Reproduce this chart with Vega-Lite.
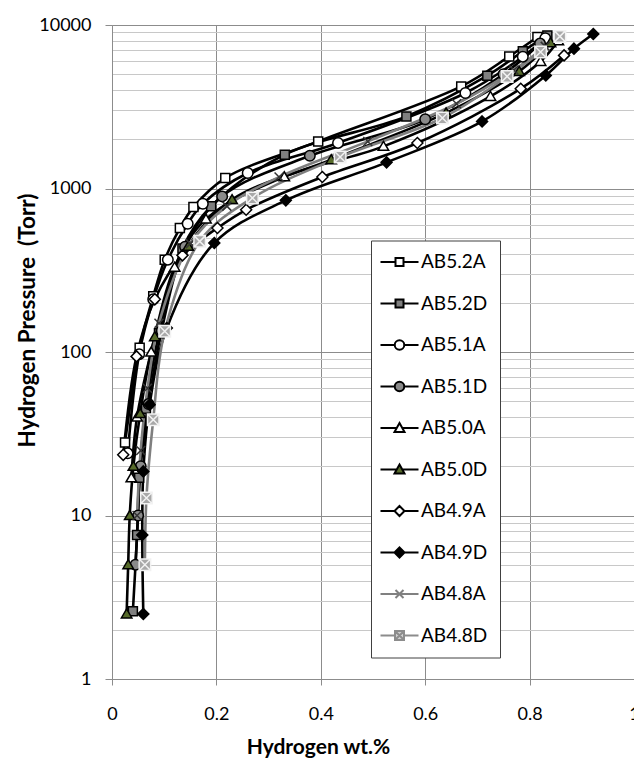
{
  "$schema": "https://vega.github.io/schema/vega-lite/v6.json",
  "width": 522,
  "height": 654,
  "autosize": {"type": "none"},
  "padding": {"left": 112, "top": 25, "right": 0, "bottom": 79},
  "background": "white",
  "config": {
    "view": {"stroke": null},
    "font": "Lato",
    "axis": {"labelFont": "Lato", "titleFont": "Lato", "labelColor": "black", "titleColor": "black"},
    "legend": {"orient": "none"}
  },
  "data": {
    "values": [
      {"s": "AB5.2A", "i": 0, "w": 0.025, "p": 28},
      {"s": "AB5.2A", "i": 1, "w": 0.053, "p": 106},
      {"s": "AB5.2A", "i": 2, "w": 0.079, "p": 219},
      {"s": "AB5.2A", "i": 3, "w": 0.101, "p": 367},
      {"s": "AB5.2A", "i": 4, "w": 0.130, "p": 573},
      {"s": "AB5.2A", "i": 5, "w": 0.156, "p": 770},
      {"s": "AB5.2A", "i": 6, "w": 0.217, "p": 1159},
      {"s": "AB5.2A", "i": 7, "w": 0.395, "p": 1941},
      {"s": "AB5.2A", "i": 8, "w": 0.669, "p": 4212},
      {"s": "AB5.2A", "i": 9, "w": 0.761, "p": 6427},
      {"s": "AB5.2A", "i": 10, "w": 0.815, "p": 8450},

      {"s": "AB5.2D", "i": 0, "w": 0.040, "p": 2.6},
      {"s": "AB5.2D", "i": 1, "w": 0.048, "p": 7.6},
      {"s": "AB5.2D", "i": 2, "w": 0.052, "p": 17},
      {"s": "AB5.2D", "i": 3, "w": 0.065, "p": 45},
      {"s": "AB5.2D", "i": 4, "w": 0.090, "p": 130},
      {"s": "AB5.2D", "i": 5, "w": 0.135, "p": 430},
      {"s": "AB5.2D", "i": 6, "w": 0.190, "p": 780},
      {"s": "AB5.2D", "i": 7, "w": 0.331, "p": 1610},
      {"s": "AB5.2D", "i": 8, "w": 0.564, "p": 2761},
      {"s": "AB5.2D", "i": 9, "w": 0.719, "p": 4897},
      {"s": "AB5.2D", "i": 10, "w": 0.787, "p": 6899},
      {"s": "AB5.2D", "i": 11, "w": 0.834, "p": 8637},

      {"s": "AB5.1A", "i": 0, "w": 0.030, "p": 24},
      {"s": "AB5.1A", "i": 1, "w": 0.052, "p": 97},
      {"s": "AB5.1A", "i": 2, "w": 0.079, "p": 210},
      {"s": "AB5.1A", "i": 3, "w": 0.107, "p": 367},
      {"s": "AB5.1A", "i": 4, "w": 0.145, "p": 609},
      {"s": "AB5.1A", "i": 5, "w": 0.174, "p": 807},
      {"s": "AB5.1A", "i": 6, "w": 0.260, "p": 1244},
      {"s": "AB5.1A", "i": 7, "w": 0.433, "p": 1900},
      {"s": "AB5.1A", "i": 8, "w": 0.677, "p": 3838},
      {"s": "AB5.1A", "i": 9, "w": 0.787, "p": 6400},
      {"s": "AB5.1A", "i": 10, "w": 0.830, "p": 8300},

      {"s": "AB5.1D", "i": 0, "w": 0.045, "p": 5},
      {"s": "AB5.1D", "i": 1, "w": 0.050, "p": 10},
      {"s": "AB5.1D", "i": 2, "w": 0.055, "p": 20},
      {"s": "AB5.1D", "i": 3, "w": 0.070, "p": 48},
      {"s": "AB5.1D", "i": 4, "w": 0.095, "p": 135},
      {"s": "AB5.1D", "i": 5, "w": 0.140, "p": 440},
      {"s": "AB5.1D", "i": 6, "w": 0.211, "p": 895},
      {"s": "AB5.1D", "i": 7, "w": 0.379, "p": 1585},
      {"s": "AB5.1D", "i": 8, "w": 0.600, "p": 2650},
      {"s": "AB5.1D", "i": 9, "w": 0.750, "p": 5000},
      {"s": "AB5.1D", "i": 10, "w": 0.820, "p": 7700},

      {"s": "AB5.0A", "i": 0, "w": 0.037, "p": 17},
      {"s": "AB5.0A", "i": 1, "w": 0.048, "p": 40},
      {"s": "AB5.0A", "i": 2, "w": 0.075, "p": 100},
      {"s": "AB5.0A", "i": 3, "w": 0.120, "p": 330},
      {"s": "AB5.0A", "i": 4, "w": 0.180, "p": 650},
      {"s": "AB5.0A", "i": 5, "w": 0.330, "p": 1180},
      {"s": "AB5.0A", "i": 6, "w": 0.520, "p": 1810},
      {"s": "AB5.0A", "i": 7, "w": 0.725, "p": 3659},
      {"s": "AB5.0A", "i": 8, "w": 0.821, "p": 5986},
      {"s": "AB5.0A", "i": 9, "w": 0.855, "p": 8000},

      {"s": "AB5.0D", "i": 0, "w": 0.028, "p": 2.5},
      {"s": "AB5.0D", "i": 1, "w": 0.031, "p": 5},
      {"s": "AB5.0D", "i": 2, "w": 0.034, "p": 10},
      {"s": "AB5.0D", "i": 3, "w": 0.041, "p": 20},
      {"s": "AB5.0D", "i": 4, "w": 0.054, "p": 42},
      {"s": "AB5.0D", "i": 5, "w": 0.082, "p": 124},
      {"s": "AB5.0D", "i": 6, "w": 0.146, "p": 443},
      {"s": "AB5.0D", "i": 7, "w": 0.230, "p": 855},
      {"s": "AB5.0D", "i": 8, "w": 0.420, "p": 1500},
      {"s": "AB5.0D", "i": 9, "w": 0.640, "p": 2900},
      {"s": "AB5.0D", "i": 10, "w": 0.780, "p": 5200},
      {"s": "AB5.0D", "i": 11, "w": 0.840, "p": 7800},

      {"s": "AB4.9A", "i": 0, "w": 0.0215, "p": 23.5},
      {"s": "AB4.9A", "i": 1, "w": 0.047, "p": 94},
      {"s": "AB4.9A", "i": 2, "w": 0.082, "p": 210},
      {"s": "AB4.9A", "i": 3, "w": 0.135, "p": 390},
      {"s": "AB4.9A", "i": 4, "w": 0.202, "p": 573},
      {"s": "AB4.9A", "i": 5, "w": 0.257, "p": 741},
      {"s": "AB4.9A", "i": 6, "w": 0.403, "p": 1175},
      {"s": "AB4.9A", "i": 7, "w": 0.585, "p": 1898},
      {"s": "AB4.9A", "i": 8, "w": 0.783, "p": 4077},
      {"s": "AB4.9A", "i": 9, "w": 0.866, "p": 6518},

      {"s": "AB4.9D", "i": 0, "w": 0.060, "p": 2.5},
      {"s": "AB4.9D", "i": 1, "w": 0.058, "p": 7.6},
      {"s": "AB4.9D", "i": 2, "w": 0.060, "p": 18.6},
      {"s": "AB4.9D", "i": 3, "w": 0.072, "p": 47.6},
      {"s": "AB4.9D", "i": 4, "w": 0.105, "p": 140},
      {"s": "AB4.9D", "i": 5, "w": 0.196, "p": 464},
      {"s": "AB4.9D", "i": 6, "w": 0.333, "p": 846},
      {"s": "AB4.9D", "i": 7, "w": 0.526, "p": 1445},
      {"s": "AB4.9D", "i": 8, "w": 0.709, "p": 2572},
      {"s": "AB4.9D", "i": 9, "w": 0.831, "p": 4918},
      {"s": "AB4.9D", "i": 10, "w": 0.885, "p": 7165},
      {"s": "AB4.9D", "i": 11, "w": 0.922, "p": 8808},

      {"s": "AB4.8A", "i": 0, "w": 0.048, "p": 10},
      {"s": "AB4.8A", "i": 1, "w": 0.055, "p": 25},
      {"s": "AB4.8A", "i": 2, "w": 0.068, "p": 60},
      {"s": "AB4.8A", "i": 3, "w": 0.090, "p": 150},
      {"s": "AB4.8A", "i": 4, "w": 0.150, "p": 460},
      {"s": "AB4.8A", "i": 5, "w": 0.220, "p": 780},
      {"s": "AB4.8A", "i": 6, "w": 0.320, "p": 1175},
      {"s": "AB4.8A", "i": 7, "w": 0.490, "p": 1941},
      {"s": "AB4.8A", "i": 8, "w": 0.660, "p": 3300},
      {"s": "AB4.8A", "i": 9, "w": 0.770, "p": 5300},
      {"s": "AB4.8A", "i": 10, "w": 0.830, "p": 7400},

      {"s": "AB4.8D", "i": 0, "w": 0.063, "p": 5},
      {"s": "AB4.8D", "i": 1, "w": 0.066, "p": 12.8},
      {"s": "AB4.8D", "i": 2, "w": 0.079, "p": 38.5},
      {"s": "AB4.8D", "i": 3, "w": 0.101, "p": 134},
      {"s": "AB4.8D", "i": 4, "w": 0.168, "p": 475},
      {"s": "AB4.8D", "i": 5, "w": 0.269, "p": 875},
      {"s": "AB4.8D", "i": 6, "w": 0.437, "p": 1559},
      {"s": "AB4.8D", "i": 7, "w": 0.633, "p": 2700},
      {"s": "AB4.8D", "i": 8, "w": 0.757, "p": 4850},
      {"s": "AB4.8D", "i": 9, "w": 0.821, "p": 6838},
      {"s": "AB4.8D", "i": 10, "w": 0.858, "p": 8518}
    ]
  },
  "encoding": {
    "x": {
      "field": "w",
      "type": "quantitative",
      "scale": {"domain": [0, 1], "nice": false, "zero": false},
      "axis": {
        "values": [0, 0.2, 0.4, 0.6, 0.8, 1],
        "format": "~g",
        "grid": true,
        "gridColor": "#8c8c8c",
        "gridWidth": 1,
        "domainColor": "#8c8c8c",
        "tickColor": "#8c8c8c",
        "tickSize": 6,
        "labelFontSize": 18,
        "labelPadding": 20,
        "labelFlush": false,
        "labelOverlap": false,
        "title": "Hydrogen wt.%",
        "titleFontSize": 21,
        "titleFontWeight": "bold",
        "titleX": 206,
        "titleY": 74,
        "titleAlign": "center",
        "titleBaseline": "alphabetic"
      }
    },
    "y": {
      "field": "p",
      "type": "quantitative",
      "scale": {"type": "log", "domain": [1, 10000], "nice": false},
      "axis": {
        "values": [1, 2, 3, 4, 5, 6, 7, 8, 9, 10, 20, 30, 40, 50, 60, 70, 80, 90, 100, 200, 300, 400, 500, 600, 700, 800, 900, 1000, 2000, 3000, 4000, 5000, 6000, 7000, 8000, 9000, 10000],
        "format": "d",
        "labelExpr": "indexof([1, 10, 100, 1000, 10000], datum.value) >= 0 ? datum.label : ''",
        "grid": true,
        "gridColor": {"condition": {"test": "indexof([1, 10, 100, 1000, 10000], datum.value) >= 0", "value": "#8c8c8c"}, "value": "#c8c8c8"},
        "gridWidth": 1,
        "domainColor": "#8c8c8c",
        "tickColor": "#8c8c8c",
        "tickOpacity": {"condition": {"test": "indexof([1, 10, 100, 1000, 10000], datum.value) >= 0", "value": 1}, "value": 0},
        "tickSize": 7,
        "labelFontSize": 18,
        "labelPadding": 14,
        "labelFlush": false,
        "labelOverlap": false,
        "title": "Hydrogen Pressure \u00a0(Torr)",
        "titleFontSize": 22.5,
        "titleFontWeight": "bold",
        "titleX": -85,
        "titleY": 295,
        "titleAngle": -90,
        "titleAlign": "center",
        "titleBaseline": "middle"
      }
    }
  },
  "resolve": {"scale": {"fill": "independent", "stroke": "independent", "shape": "independent"}},
  "layer": [
    {
      "mark": {"type": "line", "interpolate": "catmull-rom", "strokeWidth": 2.6},
      "encoding": {
        "color": {
          "field": "s",
          "type": "nominal",
          "legend": null,
          "scale": {
            "range": ["#7f7f7f", "#7f7f7f", "#000000", "#000000", "#000000", "#000000", "#000000", "#000000", "#000000", "#000000"]
          }
        },
        "order": {"field": "i", "type": "quantitative"}
      }
    },
    {
      "mark": {"type": "point", "opacity": 1, "size": 100, "strokeWidth": 1.5},
      "encoding": {
        "fill": {
          "field": "s",
          "type": "nominal",
          "legend": null,
          "scale": {
            "domain": ["AB5.2A", "AB5.2D", "AB5.1A", "AB5.1D", "AB5.0A", "AB5.0D", "AB4.9A", "AB4.9D", "AB4.8A", "AB4.8D"],
            "range": ["#ffffff", "#7f7f7f", "#ffffff", "#8a8a8a", "#ffffff", "#566a2a", "#ffffff", "#000000", "#3a3a3a", "#a8a8a8"]
          }
        },
        "stroke": {
          "field": "s",
          "type": "nominal",
          "legend": null,
          "scale": {
            "domain": ["AB5.2A", "AB5.2D", "AB5.1A", "AB5.1D", "AB5.0A", "AB5.0D", "AB4.9A", "AB4.9D", "AB4.8A", "AB4.8D"],
            "range": ["#000000", "#000000", "#000000", "#000000", "#000000", "#000000", "#000000", "#000000", "#333333", "#f2f2f2"]
          }
        },
        "shape": {
          "field": "s",
          "type": "nominal",
          "legend": null,
          "scale": {
            "domain": ["AB5.2A", "AB5.2D", "AB5.1A", "AB5.1D", "AB5.0A", "AB5.0D", "AB4.9A", "AB4.9D", "AB4.8A", "AB4.8D"],
            "range": [
              "M-0.9,-0.9H0.9V0.9H-0.9Z",
              "M-0.9,-0.9H0.9V0.9H-0.9Z",
              "M-1.05,0A1.05,1.05,0,1,0,1.05,0A1.05,1.05,0,1,0,-1.05,0Z",
              "M-1.05,0A1.05,1.05,0,1,0,1.05,0A1.05,1.05,0,1,0,-1.05,0Z",
              "M0,-1L1.05,0.8H-1.05Z",
              "M0,-1L1.05,0.8H-1.05Z",
              "M0,-1.1L1.1,0L0,1.1L-1.1,0Z",
              "M0,-1.1L1.1,0L0,1.1L-1.1,0Z",
              "M-0.9,-0.9L0.9,0.9M0.9,-0.9L-0.9,0.9",
              "M-1.15,-1.15H1.15V1.15H-1.15Z M-1.15,-1.15L1.15,1.15M1.15,-1.15L-1.15,1.15"
            ]
          }
        }
      }
    },
    {
      "transform": [{"filter": "false"}],
      "mark": {"type": "point", "opacity": 1, "size": 100, "strokeWidth": 2},
      "encoding": {
        "fill": {
          "field": "s",
          "type": "nominal",
          "scale": {
            "domain": ["AB5.2A", "AB5.2D", "AB5.1A", "AB5.1D", "AB5.0A", "AB5.0D", "AB4.9A", "AB4.9D", "AB4.8A", "AB4.8D"],
            "range": ["#ffffff", "#7f7f7f", "#ffffff", "#8a8a8a", "#ffffff", "#566a2a", "#ffffff", "#000000", "#ffffff", "#d0d0d0"]
          },
          "legend": {"title": null, "orient": "none", "legendX": 259, "legendY": 215.5}
        },
        "stroke": {
          "field": "s",
          "type": "nominal",
          "scale": {
            "domain": ["AB5.2A", "AB5.2D", "AB5.1A", "AB5.1D", "AB5.0A", "AB5.0D", "AB4.9A", "AB4.9D", "AB4.8A", "AB4.8D"],
            "range": ["#000000", "#000000", "#000000", "#000000", "#000000", "#000000", "#000000", "#000000", "#808080", "#8c8c8c"]
          },
          "legend": {"title": null, "orient": "none", "legendX": 259, "legendY": 215.5}
        },
        "shape": {
          "field": "s",
          "type": "nominal",
          "scale": {
            "domain": ["AB5.2A", "AB5.2D", "AB5.1A", "AB5.1D", "AB5.0A", "AB5.0D", "AB4.9A", "AB4.9D", "AB4.8A", "AB4.8D"],
            "range": [
              "M-3.8,0H-0.8M0.8,0H3.8M-0.8,-0.8H0.8V0.8H-0.8Z",
              "M-3.8,0H-0.8M0.8,0H3.8M-0.8,-0.8H0.8V0.8H-0.8Z",
              "M-3.8,0H-0.95M0.95,0H3.8M-0.95,0A0.95,0.95,0,1,0,0.95,0A0.95,0.95,0,1,0,-0.95,0Z",
              "M-3.8,0H-0.95M0.95,0H3.8M-0.95,0A0.95,0.95,0,1,0,0.95,0A0.95,0.95,0,1,0,-0.95,0Z",
              "M-3.8,0H-0.56M0.56,0H3.8M0,-1L1,0.8H-1Z",
              "M-3.8,0H-0.56M0.56,0H3.8M0,-1L1,0.8H-1Z",
              "M-3.8,0H-1M1,0H3.8M0,-1L1,0L0,1L-1,0Z",
              "M-3.8,0H-1M1,0H3.8M0,-1L1,0L0,1L-1,0Z",
              "M-3.8,0H3.8M-0.8,-0.8L0.8,0.8M0.8,-0.8L-0.8,0.8",
              "M-3.8,0H-0.9M0.9,0H3.8M-0.9,-0.9H0.9V0.9H-0.9Z M-0.9,-0.9L0.9,0.9M0.9,-0.9L-0.9,0.9"
            ]
          },
          "legend": {
            "title": null,
            "orient": "none",
            "legendX": 259,
            "legendY": 215.5,
            "padding": 12,
            "fillColor": "white",
            "strokeColor": "#404040",
            "symbolSize": 100,
            "symbolStrokeWidth": 2,
            "symbolOffset": 7,
            "labelOffset": 12,
            "labelFont": "Lato",
            "labelFontSize": 19,
            "labelColor": "black",
            "rowPadding": 21.5
          }
        }
      }
    }
  ]
}
